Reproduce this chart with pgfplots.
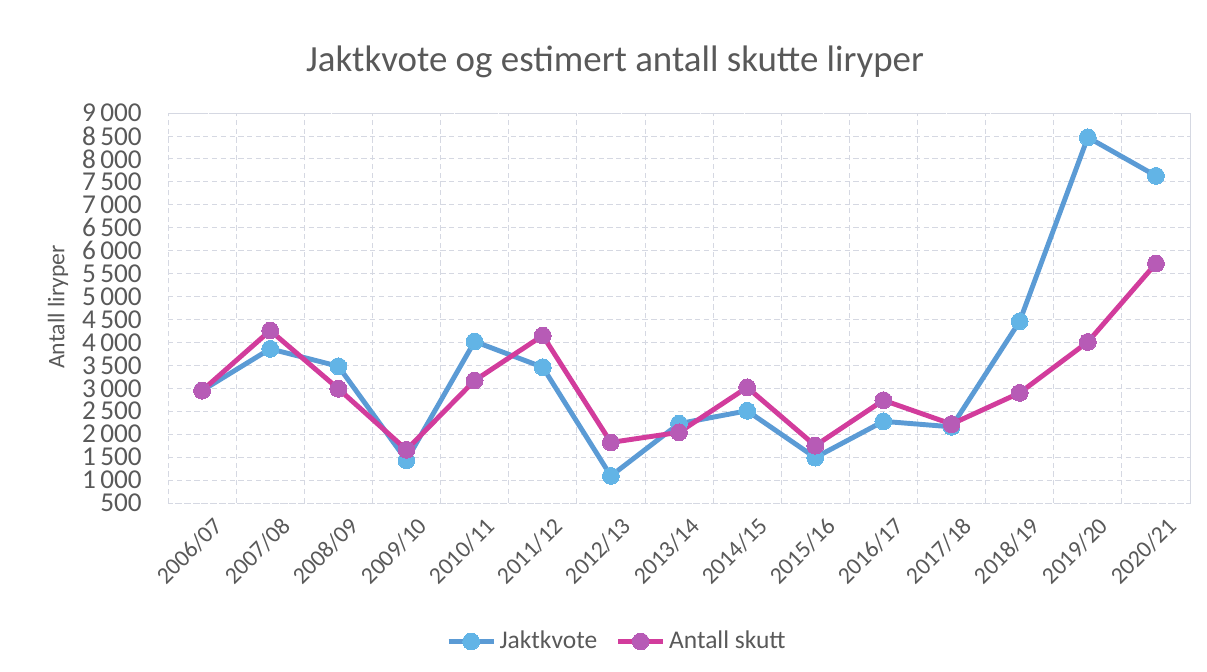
\documentclass[border=0pt]{standalone}
\usepackage{fontspec}
\setmainfont{Carlito}
\usepackage{pgfplots}
\pgfplotsset{compat=1.18}
\definecolor{txt}{HTML}{595959}
\definecolor{gridc}{HTML}{D5D8E2}
\definecolor{kvoteLine}{HTML}{5B9BD5}
\definecolor{kvoteMark}{HTML}{62B4E6}
\definecolor{skuttLine}{HTML}{D23C9C}
\definecolor{skuttMark}{HTML}{B75BB6}

\begin{document}
\begin{tikzpicture}
% page = 1207 x 671 px, 1 px = 0.02cm
\path[use as bounding box] (0,0) rectangle (24.14cm,13.42cm);
\node[text=txt,font=\fontsize{21}{24}\selectfont] at (12.3cm,12.18cm)
  {Jaktkvote og estimert antall skutte liryper};
\node[text=txt,font=\fontsize{13.5}{15}\selectfont,rotate=90] at (1.16cm,7.28cm) {Antall liryper};

\begin{axis}[
  at={(3.36cm,3.36cm)}, anchor=south west,
  scale only axis, width=20.44cm, height=7.8cm,
  xmin=-0.5, xmax=14.5, ymin=500, ymax=9000,
  xtick={0,...,14},
  xticklabels={2006/07,2007/08,2008/09,2009/10,2010/11,2011/12,2012/13,2013/14,
               2014/15,2015/16,2016/17,2017/18,2018/19,2019/20,2020/21},
  minor xtick={-0.5,0.5,...,14.5},
  ytick={500,1000,...,9000},
  xmajorgrids=false, xminorgrids=true, ymajorgrids=true,
  grid style={gridc,densely dashed,line width=0.5pt},
  minor grid style={gridc,densely dashed,line width=0.5pt},
  axis line style={gridc,densely dashed,line width=0.5pt},
  major tick length=0pt, minor tick length=0pt,
  tick label style={text=txt},
  /pgf/number format/.cd, 1000 sep={\,}, assume math mode=true,
  /pgfplots/.cd,
  yticklabel style={font=\fontsize{15.5}{16}\selectfont,xshift=-0.4cm},
  xticklabel style={font=\fontsize{13.5}{15}\selectfont,rotate=45,anchor=north east,
                    xshift=0.08cm,yshift=-0.2cm},
  legend style={at={(0.44,-0.355)},anchor=center,draw=none,fill=none,
                legend columns=2,font=\fontsize{14.5}{16}\selectfont,text=txt,
                /tikz/every even column/.append style={column sep=0.3cm}},
  legend image code/.code={
    \draw[#1,mark=none] (0cm,0cm) -- (0.9cm,0cm);
    \draw[#1,only marks] plot coordinates {(0.45cm,0cm)};},
]
\addplot[kvoteLine,line width=2.8pt,mark=*,mark size=4.8pt,
  mark options={fill=kvoteMark,draw=kvoteMark,line width=0pt}]
  coordinates {(0,2950)(1,3860)(2,3480)(3,1430)(4,4020)(5,3460)(6,1090)(7,2230)
               (8,2510)(9,1490)(10,2280)(11,2160)(12,4460)(13,8470)(14,7630)};
\addlegendentry{Jaktkvote}
\addplot[skuttLine,line width=2.8pt,mark=*,mark size=4.8pt,
  mark options={fill=skuttMark,draw=skuttMark,line width=0pt}]
  coordinates {(0,2950)(1,4260)(2,2990)(3,1660)(4,3170)(5,4150)(6,1820)(7,2040)
               (8,3020)(9,1750)(10,2740)(11,2220)(12,2900)(13,4010)(14,5720)};
\addlegendentry{Antall skutt}
\end{axis}
\end{tikzpicture}
\end{document}
